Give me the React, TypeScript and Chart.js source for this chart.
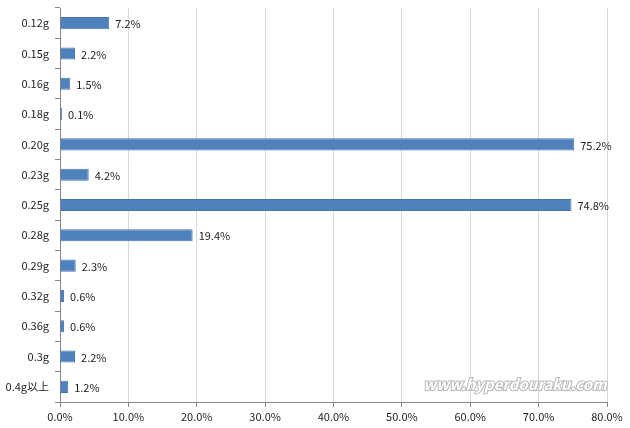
import React, { useEffect, useRef } from "react";
import { Chart, registerables } from "chart.js";

Chart.register(...registerables);

const categories = ["0.12g", "0.15g", "0.16g", "0.18g", "0.20g", "0.23g", "0.25g", "0.28g", "0.29g", "0.32g", "0.36g", "0.3g", "0.4g以上"];
const values = [7.2, 2.2, 1.5, 0.1, 75.2, 4.2, 74.8, 19.4, 2.3, 0.6, 0.6, 2.2, 1.2];
const watermark = "www.hyperdouraku.com";

const FONT = "'Noto Sans CJK JP', 'DejaVu Sans', sans-serif";

const labelPlugin = {
  id: "barLabels",
  afterDatasetsDraw(chart: any) {
    const ctx = chart.ctx;
    const meta = chart.getDatasetMeta(0);
    ctx.save();
    ctx.font = `11px ${FONT}`;
    ctx.fillStyle = "#222";
    ctx.textAlign = "left";
    ctx.textBaseline = "middle";
    meta.data.forEach((el: any, i: number) => {
      ctx.fillText(values[i].toFixed(1) + "%", el.x + 6, el.y + 1);
    });
    // watermark
    ctx.font = `bold italic 15px ${FONT}`;
    ctx.textAlign = "center";
    ctx.lineWidth = 2;
    ctx.strokeStyle = "#b8b8b8";
    ctx.strokeText(watermark, 515, 384);
    ctx.fillStyle = "#ffffff";
    ctx.fillText(watermark, 515, 384);
    ctx.restore();
  },
};

export default function App() {
  const ref = useRef<HTMLCanvasElement>(null);
  useEffect(() => {
    const chart = new Chart(ref.current!, {
      type: "bar",
      data: {
        labels: categories,
        datasets: [
          {
            data: values,
            backgroundColor: "#4F81BD",
            borderColor: "#4676B0",
            borderWidth: 1,
            minBarLength: 2,
            barPercentage: 1,
            categoryPercentage: 0.4,
          },
        ],
      },
      options: {
        indexAxis: "y",
        animation: false,
        responsive: false,
        layout: { padding: { top: 8, right: 23, left: 0, bottom: 0 } },
        plugins: { legend: { display: false }, tooltip: { enabled: false } },
        scales: {
          x: {
            min: 0,
            max: 80,
            ticks: {
              stepSize: 10,
              color: "#222",
              font: { family: FONT, size: 11 },
              padding: 3,
              callback: (v: any) => Number(v).toFixed(1) + "%",
            },
            grid: { color: "#d9d9d9", tickColor: "#868686", tickLength: 5 },
            border: { display: true, color: "#868686" },
            afterFit: (s: any) => { s.height = 26; s.paddingLeft = 0; s.paddingRight = 0; },
          },
          y: {
            ticks: { color: "#222", font: { family: FONT, size: 11 }, padding: 6 },
            grid: { drawOnChartArea: false, offset: true, tickLength: 5, color: "#868686" },
            border: { display: true, color: "#868686" },
            afterFit: (s: any) => { s.width = 60; s.paddingTop = 0; s.paddingBottom = 0; },
          },
        },
      },
      plugins: [labelPlugin],
    });
    return () => chart.destroy();
  }, []);
  return (
    <div style={{ position: "fixed", left: 0, top: 0, width: 630, height: 428, background: "#fff" }}>
      <canvas ref={ref} width={630} height={428} />
    </div>
  );
}
